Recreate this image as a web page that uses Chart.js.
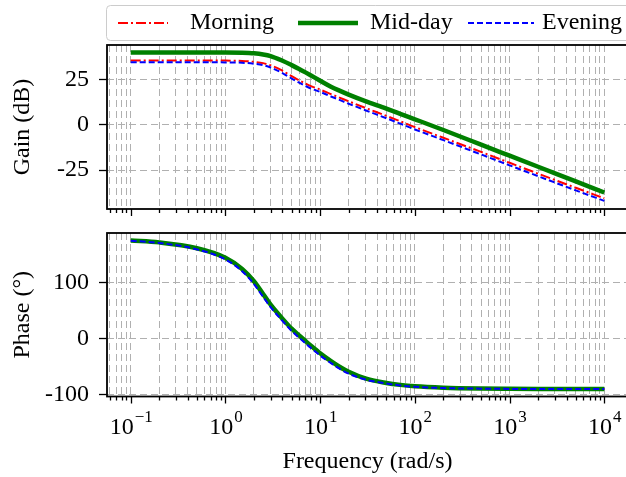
<!DOCTYPE html>
<html>
<head>
<meta charset="utf-8">
<script src="https://cdn.jsdelivr.net/npm/chart.js@4.4.1/dist/chart.umd.min.js"></script>
<style>
  html, body { margin: 0; padding: 0; background: #fff; }
  #wrap { position: relative; width: 626px; height: 477px; overflow: hidden; }
  #gainBox { position: absolute; left: 0; top: 0; width: 640px; height: 240px; }
  #phaseBox { position: absolute; left: 0; top: 200px; width: 640px; height: 277px; }
</style>
</head>
<body>
<div id="wrap">
  <div id="gainBox"><canvas id="gain"></canvas></div>
  <div id="phaseBox"><canvas id="phase"></canvas></div>
</div>
<script>
const FONT = "'Liberation Serif', 'Times New Roman', serif";
Chart.defaults.font.family = FONT;
Chart.defaults.font.size = 24;
Chart.defaults.color = '#000';

// data
const seriesNames = ['Morning', 'Mid-day', 'Evening'];
const freq = [0.1, 0.2, 0.5, 1, 1.5, 2, 2.5, 3, 4, 5, 6, 7, 8, 10, 13, 16, 20, 30, 50, 70, 100, 200, 500, 1000, 2000, 5000, 10000];

const gainMorning = [35.5, 35.5, 35.5, 35.4, 35.2, 34.7, 34.0, 32.8, 29.8, 26.8, 24.5, 22.7, 21.3, 19.4, 16.9, 15.0, 12.9, 9.3, 4.9, 1.9, -1.3, -7.2, -15.0, -21.0, -27.0, -34.8, -40.6];
const gainMidday = [39.8, 39.8, 39.8, 39.8, 39.7, 39.4, 38.8, 37.9, 35.3, 32.9, 30.8, 28.9, 27.2, 24.3, 21.0, 18.8, 16.6, 13.0, 8.9, 6.0, 3.0, -2.9, -11.0, -17.1, -23.2, -31.3, -37.4];
const gainEvening = [34.5, 34.5, 34.5, 34.4, 34.2, 33.7, 32.9, 31.6, 28.5, 25.5, 23.2, 21.4, 20.0, 18.1, 15.6, 13.7, 11.6, 8.0, 3.6, 0.6, -2.6, -8.5, -16.4, -22.4, -28.4, -36.2, -42.0];

const phaseMorning = [176, 172, 161, 143.5, 123, 100.5, 77.5, 58.5, 34, 16, 4, -6, -14.5, -28, -42, -52, -61, -72, -79.5, -83, -85.5, -88, -89.2, -89.6, -89.8, -90, -90];
const phaseMidday = [176, 172.5, 162, 145, 125, 103, 80, 61, 36, 18, 6, -4, -12.5, -26, -40, -50, -59, -71, -79, -82.5, -85, -87.5, -89, -89.5, -89.8, -90, -90];
const phaseEvening = [175.5, 171.5, 160, 142, 121, 98, 75, 56.5, 32, 14, 2, -8, -16.5, -30, -43.5, -53.5, -62.5, -73, -80, -83.5, -86, -88.2, -89.3, -89.7, -89.9, -90, -90];

const majorTicks = [0.1, 1, 10, 100, 1000, 10000];
const majorExp = ['\u22121', '0', '1', '2', '3', '4'];
const gainTicks = [-25, 0, 25];
const phaseTicks = [-100, 0, 100];

const xMin = 0.0562, xMax = 17783;

// every 1..9 x 10^k inside the range, for the log grid
const gridTicks = [];
[0.01].concat(majorTicks).forEach(d => {
  for (let m = 1; m < 10; m++) {
    const v = +(m * d).toPrecision(3);
    if (v >= xMin && v <= xMax) gridTicks.push(v);
  }
});

const styles = [
  {borderColor: '#ff0000', borderWidth: 2, borderDash: [10, 3, 2, 3], order: 3},
  {borderColor: '#008000', borderWidth: 4.5, borderDash: [], order: 2},
  {borderColor: '#0000ff', borderWidth: 2, borderDash: [6, 3], order: 1}
];

function makeDatasets(list) {
  return list.map((vals, i) => Object.assign({
    label: seriesNames[i],
    data: freq.map((f, j) => ({x: f, y: vals[j]})),
    pointRadius: 0,
    fill: false,
    cubicInterpolationMode: 'monotone'
  }, styles[i]));
}

function xScale(bottomPlot) {
  return {
    type: 'logarithmic',
    min: xMin,
    max: xMax,
    afterBuildTicks: s => { s.ticks = gridTicks.map(v => ({value: v, major: majorTicks.includes(v)})); },
    afterFit: s => { s.height = bottomPlot ? 80.5 : 31; },
    grid: {color: '#b0b0b0', lineWidth: 1, drawTicks: false},
    border: {display: false, dash: [7, 4]},
    ticks: {display: false, autoSkip: false},
    title: {display: bottomPlot, text: 'Frequency (rad/s)', font: {size: 24}, padding: {top: 0, bottom: 1}}
  };
}

function yScale(min, max, ticks, title) {
  return {
    min: min,
    max: max,
    afterBuildTicks: s => { s.ticks = ticks.map(v => ({value: v})); },
    afterFit: s => { s.width = 107; },
    grid: {color: '#b0b0b0', lineWidth: 1, drawTicks: true, tickLength: 8, tickColor: '#000', tickWidth: 1.3},
    border: {display: false, dash: [7, 4]},
    ticks: {padding: 10, font: {size: 24}, callback: v => String(v)},
    title: {display: true, text: title, font: {size: 24}, padding: {top: 8, bottom: 0}}
  };
}

// black box round the plot + log ticks under it
const framePlugin = {
  id: 'frame',
  afterDatasetsDraw(chart) {
    const {ctx, chartArea: a, scales: {x}} = chart;
    ctx.save();
    ctx.strokeStyle = '#000';
    ctx.lineWidth = 1.3;
    gridTicks.forEach(v => {
      const px = Math.round(x.getPixelForValue(v)) + 0.5;
      const len = majorTicks.includes(v) ? 7 : 4;
      ctx.beginPath();
      ctx.moveTo(px, a.bottom);
      ctx.lineTo(px, a.bottom + len);
      ctx.stroke();
    });
    ctx.lineWidth = 1.8;
    ctx.strokeRect(a.left, a.top, a.right - a.left, a.bottom - a.top);
    ctx.restore();
  }
};

// 10^k labels
const decadeLabels = {
  id: 'decadeLabels',
  afterDraw(chart) {
    const {ctx, chartArea: a, scales: {x}} = chart;
    ctx.save();
    ctx.fillStyle = '#000';
    ctx.textBaseline = 'alphabetic';
    ctx.textAlign = 'left';
    majorTicks.forEach((v, i) => {
      const px = x.getPixelForValue(v);
      ctx.font = '24px ' + FONT;
      const wb = ctx.measureText('10').width;
      ctx.font = '17px ' + FONT;
      const we = ctx.measureText(majorExp[i]).width;
      const left = px - (wb + we) / 2;
      ctx.font = '24px ' + FONT;
      ctx.fillText('10', left, a.bottom + 37);
      ctx.font = '17px ' + FONT;
      ctx.fillText(majorExp[i], left + wb + 1, a.bottom + 25);
    });
    ctx.restore();
  }
};

// framed legend above the gain plot
const boxLegend = {
  id: 'boxLegend',
  afterDraw(chart) {
    const {ctx} = chart;
    const spots = [{x0: 118, x1: 168, tx: 190}, {x0: 298, x1: 358, tx: 370}, {x0: 468, x1: 534, tx: 542}];
    const cy = 23;
    ctx.save();
    ctx.beginPath();
    ctx.roundRect(106.5, 5.5, 540, 35, 4);
    ctx.fillStyle = '#fff';
    ctx.fill();
    ctx.strokeStyle = '#cccccc';
    ctx.lineWidth = 1;
    ctx.stroke();
    chart.data.datasets.forEach((ds, i) => {
      const s = spots[i];
      ctx.beginPath();
      ctx.strokeStyle = ds.borderColor;
      ctx.lineWidth = ds.borderWidth;
      ctx.setLineDash(ds.borderDash || []);
      ctx.moveTo(s.x0, cy);
      ctx.lineTo(s.x1, cy);
      ctx.stroke();
      ctx.setLineDash([]);
      ctx.fillStyle = '#000';
      ctx.font = '24px ' + FONT;
      ctx.textBaseline = 'middle';
      ctx.fillText(ds.label, s.tx, cy);
    });
    ctx.restore();
  }
};

new Chart(document.getElementById('gain'), {
  type: 'line',
  data: {datasets: makeDatasets([gainMorning, gainMidday, gainEvening])},
  options: {
    responsive: true,
    maintainAspectRatio: false,
    animation: false,
    layout: {padding: {left: 0, top: 45, right: 12, bottom: 0}},
    scales: {
      x: xScale(false),
      y: yScale(-46.5, 44, gainTicks, 'Gain (dB)')
    },
    plugins: {legend: {display: false}, tooltip: {enabled: false}}
  },
  plugins: [framePlugin, boxLegend]
});

new Chart(document.getElementById('phase'), {
  type: 'line',
  data: {datasets: makeDatasets([phaseMorning, phaseMidday, phaseEvening])},
  options: {
    responsive: true,
    maintainAspectRatio: false,
    animation: false,
    layout: {padding: {left: 0, top: 33, right: 12, bottom: 0}},
    scales: {
      x: xScale(true),
      y: yScale(-103.3, 189.3, phaseTicks, 'Phase (°)')
    },
    plugins: {legend: {display: false}, tooltip: {enabled: false}}
  },
  plugins: [framePlugin, decadeLabels]
});
</script>
</body>
</html>
